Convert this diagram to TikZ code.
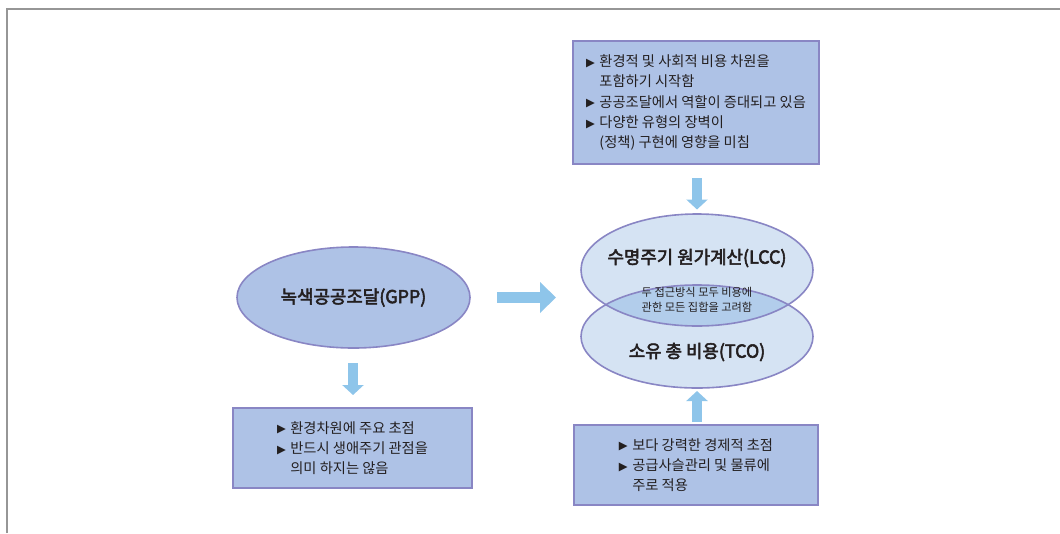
\documentclass[tikz,border=0pt]{standalone}
\usepackage{fontspec}
\setmainfont{Noto Sans CJK KR}
\newfontfamily\titlef[FakeBold=3]{Noto Sans CJK KR}
\newfontfamily\symf{DejaVu Sans}
\usetikzlibrary{arrows.meta,shapes.geometric}
\definecolor{boxfill}{RGB}{174,194,230}
\definecolor{bord}{RGB}{137,134,196}
\definecolor{elllight}{RGB}{213,227,243}
\definecolor{elldark}{RGB}{178,205,235}
\definecolor{arrowc}{RGB}{142,197,234}
\definecolor{framec}{RGB}{150,150,150}
\definecolor{txt}{RGB}{35,31,32}
\newcommand\tri{\makebox[10pt][l]{\raisebox{0.2pt}{\symf\fontsize{8.6}{8.6}\selectfont ▶}}}
\newcommand\bind{\hspace*{10pt}}
\tikzset{
  box/.style={draw=bord, fill=boxfill, line width=1.2pt, inner sep=0pt, align=left,
    text=txt, font=\fontsize{10.7}{15.2}\selectfont},
  ellnode/.style={ellipse, draw=bord, line width=1.2pt, inner sep=0pt},
  title/.style={text=txt, font=\titlef\fontsize{13.4}{15}\selectfont, inner sep=0pt},
  smalltxt/.style={text=txt, align=center, font=\fontsize{8.4}{11.2}\selectfont, inner sep=0pt},
  blockv/.style={draw=arrowc, line width=7.5pt, -{Triangle[width=15.75pt, length=7.5pt]}},
  blockh/.style={draw=arrowc, line width=8.25pt, -{Triangle[width=22.5pt, length=12pt]}},
}
\begin{document}
\begin{tikzpicture}[x=0.75pt,y=-0.75pt]
\useasboundingbox (0,0) rectangle (1060,533);
% frame
\draw[framec, line width=1.2pt] (7,533) -- (7,9) -- (1060,9);

% top box
\node[box, minimum width=184.5pt, minimum height=92.25pt] (topbox) at (696,102.5)
 {\tri 환경적 및 사회적 비용 차원을\\
  \bind 포함하기 시작함\\
  \tri 공공조달에서 역할이 증대되고 있음\\
  \tri 다양한 유형의 장벽이\\
  \bind (정책) 구현에 영향을 미침};

% LCC / TCO ellipses fills
\fill[elllight] (697,270) ellipse [x radius=116, y radius=56];
\fill[elllight] (697,336.5) ellipse [x radius=116, y radius=51.5];
\begin{scope}
  \clip (697,270) ellipse [x radius=116, y radius=56];
  \fill[elldark] (697,336.5) ellipse [x radius=116, y radius=51.5];
\end{scope}
\node[ellnode, minimum width=174pt, minimum height=84pt] (lcc) at (697,270) {};
\node[ellnode, minimum width=174pt, minimum height=77.25pt] (tco) at (697,336.5) {};
\node[title] (lcct) at (697,258) {수명주기 원가계산(LCC)};
\node[title] (tcot) at (697,352) {소유 총 비용(TCO)};
\node[smalltxt] (both) at (697,300) {두 접근방식 모두 비용에\\관한 모든 집합을 고려함};

% GPP ellipse
\node[ellnode, fill=boxfill, minimum width=174.75pt, minimum height=75.75pt] (gpp) at (353.5,297.5) {};
\node[title] (gppt) at (353.5,297.5) {녹색공공조달(GPP)};

% bottom left box
\node[box, minimum width=179.25pt, minimum height=60pt] (blbox) at (352.5,448)
 {\tri 환경차원에 주요 초점\\
  \tri 반드시 생애주기 관점을\\
  \bind 의미 하지는 않음};

% bottom right box
\node[box, minimum width=183pt, minimum height=60pt] (brbox) at (696,465)
 {\tri 보다 강력한 경제적 초점\\
  \tri 공급사슬관리 및 물류에\\
  \bind 주로 적용};

% arrows
\coordinate (a1s) at (697,178);
\coordinate (a1e) at (697,209.5);
\coordinate (a2s) at (353,363);
\coordinate (a2e) at (353,395);
\coordinate (a3s) at (697,422);
\coordinate (a3e) at (697,391);
\coordinate (a4s) at (497,297.5);
\coordinate (a4e) at (556,297.5);
\draw[blockv] (a1s) -- (a1e);
\draw[blockv] (a2s) -- (a2e);
\draw[blockv] (a3s) -- (a3e);
\draw[blockh] (a4s) -- (a4e);
\end{tikzpicture}
\end{document}
